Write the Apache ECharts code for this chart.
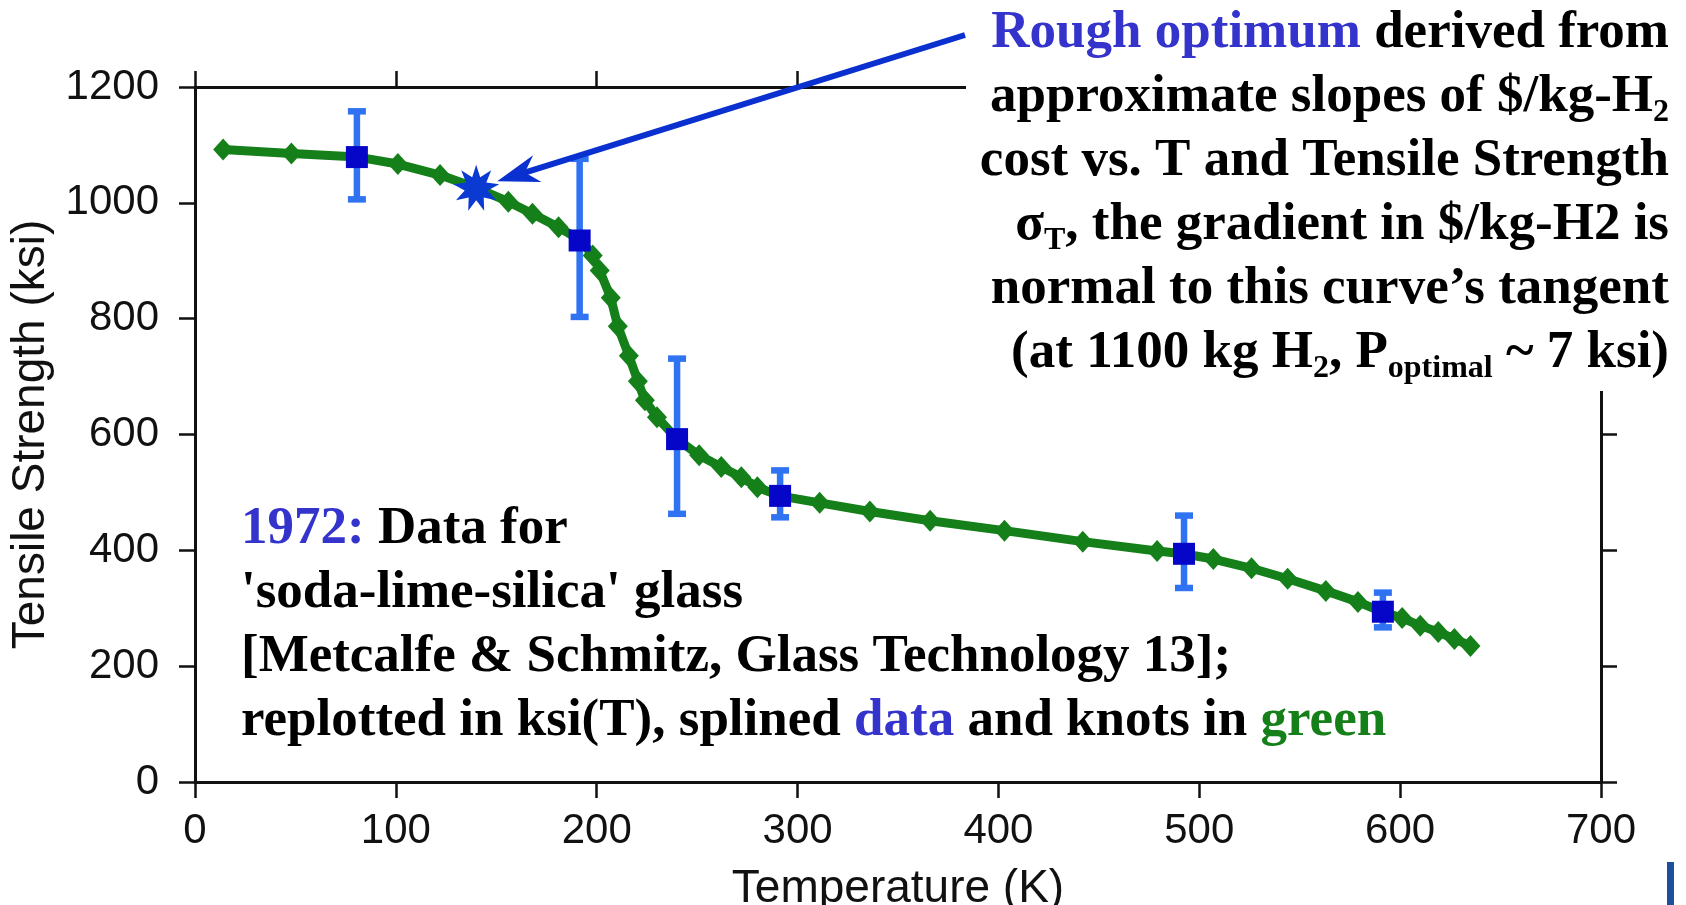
<!DOCTYPE html>
<html>
<head>
<meta charset="utf-8">
<title>Tensile Strength vs Temperature</title>
<script src="https://cdn.jsdelivr.net/npm/echarts@6/dist/echarts.min.js"></script>
<style>
  html, body { margin: 0; padding: 0; background: #fff; }
  #main { width: 1686px; height: 905px; }
</style>
</head>
<body>
<div id="main"></div>
<script>
// splined curve knots (green)
var knotT   = [14, 48, 81, 101, 122, 140, 156, 168, 181, 192, 198, 201.5, 207, 210.5, 216, 220.5, 224, 230, 240, 251, 262, 272, 280, 291, 311, 336, 366, 403, 442, 479, 492, 507, 526, 544, 563, 579, 591, 601, 610, 619, 627, 635];
var knotKsi = [1092, 1085, 1079, 1067, 1048, 1026, 1002, 981, 958, 935, 909, 883, 836, 787, 736, 692, 659, 630, 592, 564, 544, 526, 509, 494, 482, 467, 451, 434, 415, 399, 394, 385, 369, 351, 330, 311, 294, 283, 270, 259, 247, 235];

// 1972 data points (blue) and their error bars
var dataT    = [80.6, 191.5, 240, 291.3, 492.4, 591.4];
var dataKsi  = [1079, 935, 592, 494, 394, 294];
var errHigh  = [1158, 1076, 731, 538, 460, 327];
var errLow   = [1006, 803, 463, 457, 335, 267];

// rough optimum marker
var optT   = [140];
var optKsi = [1026];

var xTicks = [0, 100, 200, 300, 400, 500, 600, 700];
var yTicks = [0, 200, 400, 600, 800, 1000, 1200];

var BLUE_TXT = '#3434cc';
var GREEN = '#15801a';

function starPath(n) {
  var p = [];
  for (var i = 0; i < 2 * n; i++) {
    var r = i % 2 ? 0.5 : 1;
    var a = Math.PI * i / n - Math.PI / 2;
    p.push((i ? 'L' : 'M') + (50 + 50 * r * Math.cos(a)).toFixed(2) + ' ' + (50 + 50 * r * Math.sin(a)).toFixed(2));
  }
  return 'path://' + p.join(' ') + ' Z';
}

var chart = echarts.init(document.getElementById('main'));

var axisLine = { show: true, onZero: false, lineStyle: { color: '#111', width: 3 } };
var axisTick = { show: true, inside: false, length: 16, lineStyle: { color: '#111', width: 2.5 } };
var labelFont = { fontFamily: 'Liberation Sans', fontSize: 42, color: '#111' };
var nameFont = { fontFamily: 'Liberation Sans', fontSize: 46, color: '#111' };
var plain = function (v) { return String(v); };

chart.setOption({
  animation: false,
  backgroundColor: '#fff',
  grid: { left: 195, right: 85, top: 87, bottom: 123, outerBoundsMode: 'none', containLabel: false },
  xAxis: [{
    type: 'value', position: 'bottom',
    min: xTicks[0], max: xTicks[xTicks.length - 1], interval: xTicks[1] - xTicks[0],
    name: 'Temperature (K)', nameLocation: 'middle', nameGap: 84,
    nameTextStyle: nameFont,
    axisLine: axisLine, axisTick: axisTick,
    axisLabel: Object.assign({ margin: 28, formatter: plain }, labelFont),
    splitLine: { show: false }
  }, {
    type: 'value', position: 'top',
    min: xTicks[0], max: xTicks[xTicks.length - 1], interval: xTicks[1] - xTicks[0],
    axisLine: axisLine, axisTick: axisTick,
    axisLabel: { show: false }, splitLine: { show: false }
  }],
  yAxis: [{
    type: 'value', position: 'left',
    min: yTicks[0], max: yTicks[yTicks.length - 1], interval: yTicks[1] - yTicks[0],
    name: 'Tensile Strength (ksi)', nameLocation: 'middle', nameGap: 127,
    nameTextStyle: nameFont,
    axisLine: axisLine, axisTick: axisTick,
    axisLabel: Object.assign({ margin: 36, formatter: plain }, labelFont),
    splitLine: { show: false }
  }, {
    type: 'value', position: 'right',
    min: yTicks[0], max: yTicks[yTicks.length - 1], interval: yTicks[1] - yTicks[0],
    axisLine: axisLine, axisTick: axisTick,
    axisLabel: { show: false }, splitLine: { show: false }
  }],
  series: [{
    name: 'knots',
    type: 'line',
    z: 2,
    data: knotT.map(function (t, i) { return [t, knotKsi[i]]; }),
    lineStyle: { color: GREEN, width: 9 },
    itemStyle: { color: GREEN, opacity: 1 },
    symbol: 'diamond',
    symbolSize: [20, 22]
  }, {
    name: 'error',
    type: 'custom',
    z: 3,
    data: dataT.map(function (t, i) { return [t, errHigh[i], errLow[i]]; }),
    encode: { x: 0, y: [1, 2] },
    renderItem: function (params, api) {
      var top = api.coord([api.value(0), api.value(1)]);
      var bot = api.coord([api.value(0), api.value(2)]);
      var hw = 9;
      var st = { stroke: '#2f72f2', lineWidth: 6.5 };
      return {
        type: 'group',
        children: [
          { type: 'line', shape: { x1: top[0], y1: top[1], x2: bot[0], y2: bot[1] }, style: st },
          { type: 'line', shape: { x1: top[0] - hw, y1: top[1], x2: top[0] + hw, y2: top[1] }, style: st },
          { type: 'line', shape: { x1: bot[0] - hw, y1: bot[1], x2: bot[0] + hw, y2: bot[1] }, style: st }
        ]
      };
    }
  }, {
    name: 'data',
    type: 'scatter',
    z: 4,
    data: dataT.map(function (t, i) { return [t, dataKsi[i]]; }),
    symbol: 'rect',
    symbolSize: 22,
    itemStyle: { color: '#0606c8', opacity: 1 }
  }, {
    name: 'optimum',
    type: 'scatter',
    z: 5,
    data: optT.map(function (t, i) { return [t, optKsi[i]]; }),
    symbol: starPath(9),
    symbolSize: 46,
    itemStyle: { color: '#0a3ad2', opacity: 1 }
  }]
});

// arrow from the note to the optimum star
var star = chart.convertToPixel({ seriesIndex: 3 }, [optT[0], optKsi[0]]);
var start = [965, 35];
var dx = start[0] - star[0], dy = start[1] - star[1];
var len = Math.sqrt(dx * dx + dy * dy);
var ux = dx / len, uy = dy / len;
var px = -uy, py = ux;
var tip = [star[0] + ux * 22, star[1] + uy * 22];
function pt(back, side) { return [tip[0] + ux * back + px * side, tip[1] + uy * back + py * side]; }

var serif = 'Liberation Serif, Times New Roman, serif';
var rich = {
  n: { fontFamily: serif, fontWeight: 'bold', fontSize: 53, lineHeight: 64, fill: '#000', color: '#000' },
  b: { fontFamily: serif, fontWeight: 'bold', fontSize: 53, lineHeight: 64, fill: BLUE_TXT, color: BLUE_TXT },
  g: { fontFamily: serif, fontWeight: 'bold', fontSize: 53, lineHeight: 64, fill: GREEN, color: GREEN },
  s: { fontFamily: serif, fontWeight: 'bold', fontSize: 32, lineHeight: 32, verticalAlign: 'bottom', fill: '#000', color: '#000' },
  s2: { fontFamily: serif, fontWeight: 'bold', fontSize: 32, lineHeight: 20, verticalAlign: 'bottom', fill: '#000', color: '#000' }
};

chart.setOption({
  graphic: [{
    type: 'rect', z: 50,
    shape: { x: 966, y: 0, width: 720, height: 391 },
    style: { fill: '#fff' }
  }, {
    type: 'line', z: 55,
    shape: { x1: start[0], y1: start[1], x2: pt(28, 0)[0], y2: pt(28, 0)[1] },
    style: { stroke: '#0a30d0', lineWidth: 6 }
  }, {
    type: 'polygon', z: 55,
    shape: { points: [tip, pt(42, 14), pt(29, 0), pt(42, -14)] },
    style: { fill: '#0a30d0' }
  }, {
    type: 'text', z: 60,
    x: 1669, y: 1,
    style: {
      text: [
        '{b|Rough optimum}{n| derived from}',
        '{n|approximate slopes of $/kg-H}{s|2}',
        '{n|cost vs. T and Tensile Strength}',
        '{n|σ}{s|T}{n|, the gradient in $/kg-H2 is}',
        '{n|normal to this curve\u2019s tangent}',
        '{n|(at 1100 kg H}{s|2}{n|, P}{s2|optimal}{n| ~ 7 ksi)}'
      ].join('\n'),
      align: 'right', verticalAlign: 'top',
      fontFamily: serif, fontWeight: 'bold', fontSize: 53, lineHeight: 64,
      rich: rich
    }
  }, {
    type: 'text', z: 60,
    x: 241, y: 497,
    style: {
      text: [
        '{b|1972:}{n| Data for}',
        "{n|'soda-lime-silica' glass}",
        '{n|[Metcalfe & Schmitz, Glass Technology 13];}',
        '{n|replotted in ksi(T), splined }{b|data}{n| and knots in }{g|green}'
      ].join('\n'),
      align: 'left', verticalAlign: 'top',
      fontFamily: serif, fontWeight: 'bold', fontSize: 53, lineHeight: 64,
      rich: rich
    }
  }, {
    type: 'rect', z: 50,
    shape: { x: 1667, y: 862, width: 7, height: 43 },
    style: { fill: '#1e4f9c' }
  }]
});
</script>
</body>
</html>
